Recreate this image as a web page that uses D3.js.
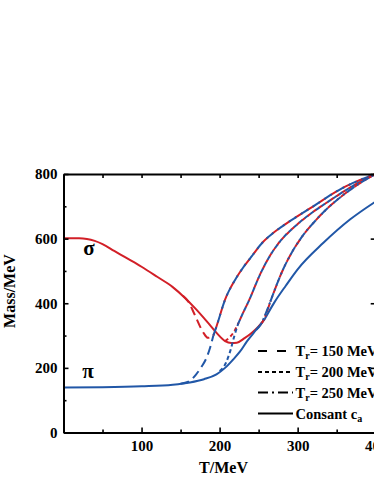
<html>
<head>
<meta charset="utf-8">
<script src="https://d3js.org/d3.v7.min.js"></script>
<style>
body { margin: 0; background: #fff; }
text { font-family: "Liberation Serif", "Times New Roman", serif; }
</style>
</head>
<body>
<div id="chart"></div>
<script>
// values: [T (MeV), mass (MeV)]
const sigmaConst = [[0,601],[20,601],[30,599],[40,593],[50,583],[65,562],[80,541],[100,513],[120,482],[140,450],[155,418],[170,381],[185,340],[197,306],[207,283],[215,277],[222,278],[232,292],[241,308],[250,328],[258,352]]
const piConst = [[0,139],[50,140],[100,143],[140,148],[162,155],[180,165],[196,180],[207,200],[217,225],[226,250],[235,282],[247,318],[258,352]]
const tailConst = [[258,352],[270,402],[285,455],[300,505],[333,587],[367,659],[400,715]]

const sigma150 = [[153,423],[160,405],[168,365],[179,310],[185,293],[192,300]]
const pi150 = [[150,151],[160,157],[170,180],[177,204],[183,230],[188,264],[192,300]]
const tail150 = [[192,300],[196,328],[207,411],[220,473],[230,510],[241,545],[255,588],[269,618],[290,654],[320,700],[354,752],[400,800]]

const sigma200 = [[207,283],[213,295],[219,314],[224,338]]
const pi200 = [[200,190],[208,215],[214,255],[219,300],[224,338]]
const tail200 = [[224,338],[230,370],[237,405],[252,490],[264,545],[277,590],[299,643],[320,683],[337,711],[370,762],[400,800]]

const sigma250 = [[250,328],[255,342],[260,370],[265,405]]
const pi250 = [[247,318],[253,335],[259,368],[265,405]]
const tail250 = [[265,405],[272,450],[281,503],[292,555],[303,597],[324,659],[341,700],[360,738],[380,772],[400,800]]

const xTicks = [100,200,300,400]
const yTicks = [0,200,400,600,800]
const legendRates = ["150","200","250"]

const red = "#d21f27"
const blue = "#2157a7"
const dash150 = "9,5"
const dash200 = "4,3"
const dash250 = "9,3,2,3"

const w = 374
const h = 484

const svg = d3.select("#chart").append("svg")
  .attr("width", w)
  .attr("height", h)

const xscale = d3.scaleLinear().domain([0,400]).range([63.5,375.7])
const yscale = d3.scaleLinear().domain([0,800]).range([432.5,174])

const line = d3.line()
  .x(d => xscale(d[0]))
  .y(d => yscale(d[1]))
  .curve(d3.curveMonotoneX)

function curve(data, color, dash, offset){
  svg.append("path")
    .attr("d", line(data))
    .attr("fill","none")
    .attr("stroke", color)
    .attr("stroke-width", 2)
    .attr("stroke-dasharray", dash)
    .attr("stroke-dashoffset", offset || 0)
}

// solid: red sigma, blue pi, shared part in blue
curve(sigmaConst, red, null)
curve(piConst, blue, null)
curve(tailConst, blue, null)

// dashed: separate branches, then the shared part red under blue (shifted dashes)
curve(sigma150, red, dash150)
curve(pi150, blue, dash150)
curve(tail150, red, dash150, 7)
curve(tail150, blue, dash150)

curve(sigma200, red, dash200)
curve(pi200, blue, dash200)
curve(tail200, red, dash200, 3.5)
curve(tail200, blue, dash200)

curve(sigma250, red, dash250)
curve(pi250, blue, dash250)
curve(tail250, red, dash250, 8)
curve(tail250, blue, dash250)

// axes, ticks pointing inward
function frame(g){
  g.select(".domain").attr("stroke-width", 2)
  g.selectAll(".tick line").attr("stroke-width", 1.6)
}
const xMinor = d3.range(50,400,100)
const yMinor = d3.range(100,800,200)

svg.append("g")
  .attr("transform", `translate(0,${yscale(0)})`)
  .call(d3.axisBottom(xscale).tickValues(xTicks).tickSizeInner(-5).tickSizeOuter(0).tickPadding(8))
  .call(frame)
svg.append("g")
  .attr("transform", `translate(0,${yscale(0)})`)
  .call(d3.axisBottom(xscale).tickValues(xMinor).tickSizeInner(-3).tickSizeOuter(0).tickFormat(""))
  .call(frame)
svg.append("g")
  .attr("transform", `translate(0,${yscale(800)})`)
  .call(d3.axisTop(xscale).tickValues(xTicks.concat(xMinor)).tickSizeInner(-4).tickSizeOuter(0).tickFormat(""))
  .call(frame)
svg.append("g")
  .attr("transform", `translate(${xscale(0)},0)`)
  .call(d3.axisLeft(yscale).tickValues(yTicks).tickSizeInner(-5).tickSizeOuter(0).tickPadding(6))
  .call(frame)
svg.append("g")
  .attr("transform", `translate(${xscale(0)},0)`)
  .call(d3.axisLeft(yscale).tickValues(yMinor).tickSizeInner(-3).tickSizeOuter(0).tickFormat(""))
  .call(frame)
svg.append("g")
  .attr("transform", `translate(${xscale(400)},0)`)
  .call(d3.axisRight(yscale).tickValues(yTicks).tickSizeInner(-5).tickSizeOuter(0).tickFormat(""))
  .call(frame)

svg.selectAll(".tick text")
  .attr("font-family", "Liberation Serif")
  .attr("font-weight", "bold")
  .attr("font-size", 15)
  .attr("fill", "#000")

// axis titles
svg.append("text")
  .attr("x", 223.5).attr("y", 473)
  .attr("text-anchor","middle")
  .attr("font-weight","bold").attr("font-size",16)
  .text("T/MeV")
svg.append("text")
  .attr("transform","translate(15,291) rotate(-90)")
  .attr("text-anchor","middle")
  .attr("font-weight","bold").attr("font-size",16)
  .text("Mass/MeV")

// curve names
svg.append("text").attr("x",89).attr("y",255).attr("text-anchor","middle")
  .attr("font-size",21).attr("font-weight","bold").text("σ")
svg.append("text").attr("x",88).attr("y",378).attr("text-anchor","middle")
  .attr("font-size",21).attr("font-weight","bold").text("π")

// legend
const legendDash = ["9,10", dash200, "10,4,2,4", null]
const legendY = [351, 372, 392.5, 413.5]
legendDash.forEach((dash, i) => {
  svg.append("line")
    .attr("x1",258).attr("x2",293)
    .attr("y1",legendY[i]).attr("y2",legendY[i])
    .attr("stroke","#000").attr("stroke-width",2.2)
    .attr("stroke-dasharray", dash)
  const t = svg.append("text")
    .attr("x",295.5).attr("y",legendY[i]+5)
    .attr("font-weight","bold").attr("font-size",14.5)
  if (i < 3){
    t.append("tspan").text("T")
    t.append("tspan").attr("dy",3).attr("font-size",10).text("r")
    t.append("tspan").attr("dy",-3).text("= " + legendRates[i] + " MeV")
  } else {
    t.append("tspan").text("Consant c")
    t.append("tspan").attr("dy",3).attr("font-size",10).text("a")
  }
})
</script>
</body>
</html>
